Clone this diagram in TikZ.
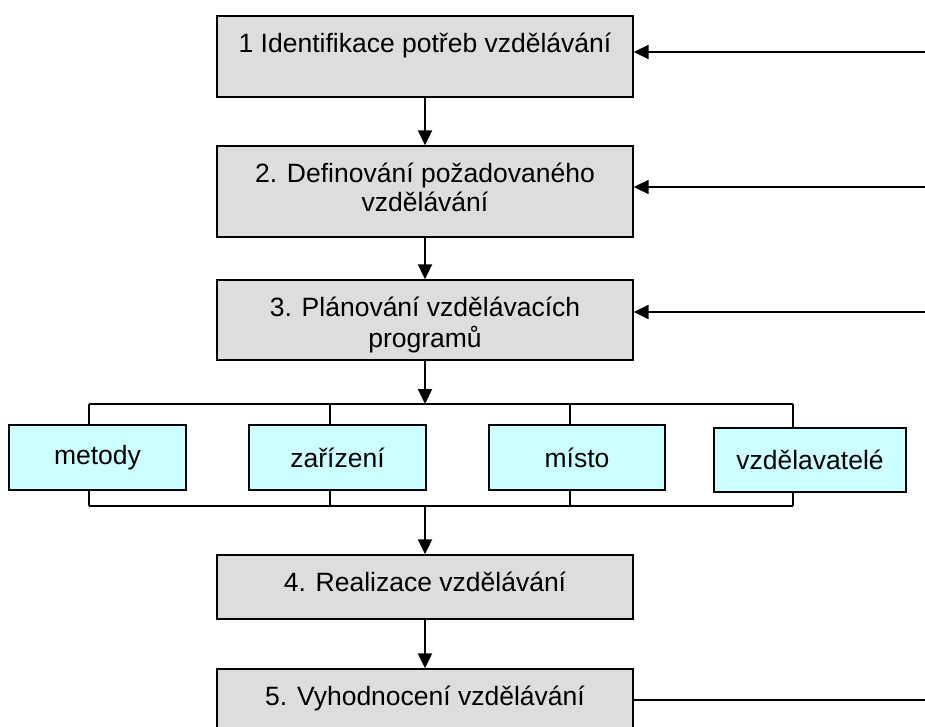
\documentclass[tikz,border=0pt]{standalone}
\usepackage{fontspec}
\setmainfont{Liberation Sans}
\usetikzlibrary{arrows.meta}

\definecolor{stepgray}{HTML}{DDDDDD}
\definecolor{optcyan}{HTML}{CCFFFF}

% text set from the top of a box: first line baseline about 36pt below the top edge
\newcommand\toptext[3]{\parbox[c][#1][t]{#2}{\centering\vspace*{16.4pt}\strut #3\par}}

\tikzset{
  stepbox/.style={draw=black, line width=1.4pt, fill=stepgray, inner sep=0pt,
    font=\fontsize{26.5pt}{29pt}\selectfont},
  optbox/.style={draw=black, line width=1.4pt, fill=optcyan, inner sep=0pt,
    font=\fontsize{26.5pt}{29pt}\selectfont},
  flow/.style={line width=2pt, -{Triangle[length=15pt,width=14pt]}},
  bus/.style={line width=1.2pt},
}

\begin{document}
\begin{tikzpicture}[x=1pt, y=-1pt]
\useasboundingbox (0,0) rectangle (925,726);
\clip (0,0) rectangle (925,726);

% main sequence of steps
\node[stepbox, minimum width=416pt, minimum height=81pt] (b1) at (425,56.5)
  {\toptext{81pt}{410pt}{1 Identifikace potřeb vzdělávání}};
\node[stepbox, minimum width=416pt, minimum height=91pt] (b2) at (425,191.5)
  {\toptext{91pt}{410pt}{2. Definování požadovaného\\vzdělávání}};
\node[stepbox, minimum width=416pt, minimum height=80pt] (b3) at (425,320)
  {\toptext{80pt}{410pt}{3. Plánování vzdělávacích\\programů}};
\node[stepbox, minimum width=416pt, minimum height=64pt] (b4) at (425,587)
  {\toptext{64pt}{410pt}{4. Realizace vzdělávání}};
\node[stepbox, minimum width=416pt, minimum height=70pt] (b5) at (425,704)
  {\toptext{70pt}{410pt}{5. Vyhodnocení vzdělávání}};

% planning components
\node[optbox, minimum width=177pt, minimum height=65pt] (m1) at (97.5,457.5) {metody};
\node[optbox, minimum width=177pt, minimum height=65pt] (m2) at (337.5,457.5) {zařízení};
\node[optbox, minimum width=176pt, minimum height=65pt] (m3) at (577,457.5) {místo};
\node[optbox, minimum width=192pt, minimum height=64pt] (m4) at (810,460) {vzdělavatelé};

% bus lines above and below the components
\coordinate (tl) at (89,404);
\coordinate (tr) at (793,404);
\coordinate (tm) at (425,404);
\coordinate (bl) at (89,506);
\coordinate (br) at (793,506);
\coordinate (bm) at (425,506);
\draw[bus] (tl) -- (tr);
\draw[bus] (bl) -- (br);
\foreach \n/\x in {m1/89, m2/330, m3/570, m4/793}{
  \draw[bus] (\x,404) -- (\x,404 |- \n.north);
  \draw[bus] (\x,506) -- (\x,506 |- \n.south);
}

% downward flow
\draw[flow] (b1) -- (b2);
\draw[flow] (b2) -- (b3);
\draw[flow] (b3) -- (tm);
\draw[flow] (bm) -- (b4);
\draw[flow] (b4) -- (b5);

% feedback lines from the right edge
\coordinate (f1) at (925,52);
\coordinate (f2) at (925,187);
\coordinate (f3) at (925,312);
\coordinate (f5) at (925,700);
\draw[flow] (f1) -- (f1 -| b1.east);
\draw[flow] (f2) -- (f2 -| b2.east);
\draw[flow] (f3) -- (f3 -| b3.east);
\draw[line width=2pt] (f5 -| b5.east) -- (f5);
\end{tikzpicture}
\end{document}
